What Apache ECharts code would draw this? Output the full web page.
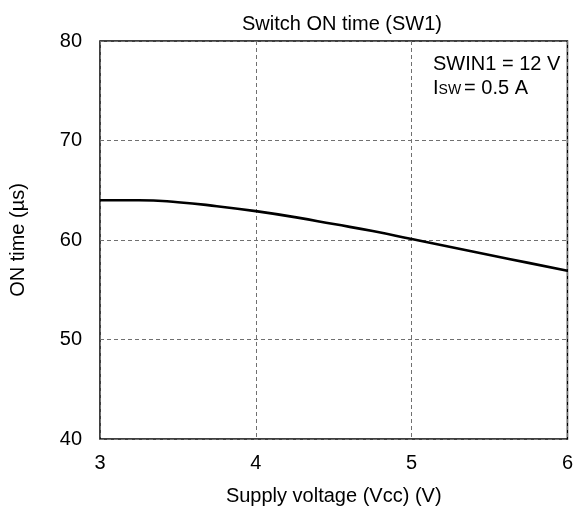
<!DOCTYPE html>
<html>
<head>
<meta charset="utf-8">
<script src="https://cdn.jsdelivr.net/npm/echarts@6/dist/echarts.min.js"></script>
<style>
  html, body { margin: 0; padding: 0; background: #fff; }
  #chart { width: 576px; height: 511px; }
</style>
</head>
<body>
<div id="chart"></div>
<script>
// supply voltage (V) and ON time (us)
const vcc = [3, 3.25, 3.5, 3.75, 4, 4.25, 4.5, 4.75, 5, 5.25, 5.5, 5.75, 6];
const onTime = [64.0, 64.0, 63.8, 63.4, 62.9, 62.3, 61.6, 60.9, 60.1, 59.3, 58.5, 57.7, 56.9];

const font = 'Liberation Sans, Arial, sans-serif';

const chart = echarts.init(document.getElementById('chart'));
chart.setOption({
  animation: false,
  title: {
    text: 'Switch ON time (SW1)',
    left: 337,
    top: 9,
    textAlign: 'center',
    textStyle: { fontFamily: font, fontSize: 20, fontWeight: 'normal', color: '#000' }
  },
  grid: { left: 100, right: 5, top: 41, bottom: 72, show: true, borderColor: '#000', borderWidth: 1.5 },
  xAxis: {
    type: 'value', min: 3, max: 6, interval: 1,
    name: 'Supply voltage (Vcc) (V)', nameLocation: 'middle', nameGap: 47,
    nameTextStyle: { fontFamily: font, fontSize: 20, color: '#000' },
    axisLine: { show: false },
    axisTick: { show: false },
    axisLabel: { fontFamily: font, fontSize: 20, color: '#000', margin: 14 },
    splitLine: { lineStyle: { color: '#707070', type: [4, 3], width: 1 } }
  },
  yAxis: {
    type: 'value', min: 40, max: 80, interval: 10,
    name: 'ON time (µs)', nameLocation: 'middle', nameGap: 72,
    nameTextStyle: { fontFamily: font, fontSize: 20, color: '#000' },
    axisLine: { show: false },
    axisTick: { show: false },
    axisLabel: { fontFamily: font, fontSize: 20, color: '#000', margin: 18 },
    splitLine: { lineStyle: { color: '#707070', type: [4, 3], width: 1 } }
  },
  graphic: [{
    type: 'text', left: 433, top: 52,
    style: {
      text: 'SWIN1 = 12 V\n{b|I}{s|SW}{b|= 0.5 A}',
      font: '20px ' + font, fill: '#000', lineHeight: 24,
      rich: {
        b: { fontFamily: font, fontSize: 20, fill: '#000', lineHeight: 24 },
        s: { fontFamily: font, fontSize: 14, fill: '#000', lineHeight: 24, padding: [4, 3, 0, 0] }
      }
    }
  }],
  series: [{
    type: 'line',
    data: vcc.map((v, i) => [v, onTime[i]]),
    smooth: true,
    symbol: 'none',
    lineStyle: { color: '#000', width: 2.6 }
  }]
});
</script>
</body>
</html>
